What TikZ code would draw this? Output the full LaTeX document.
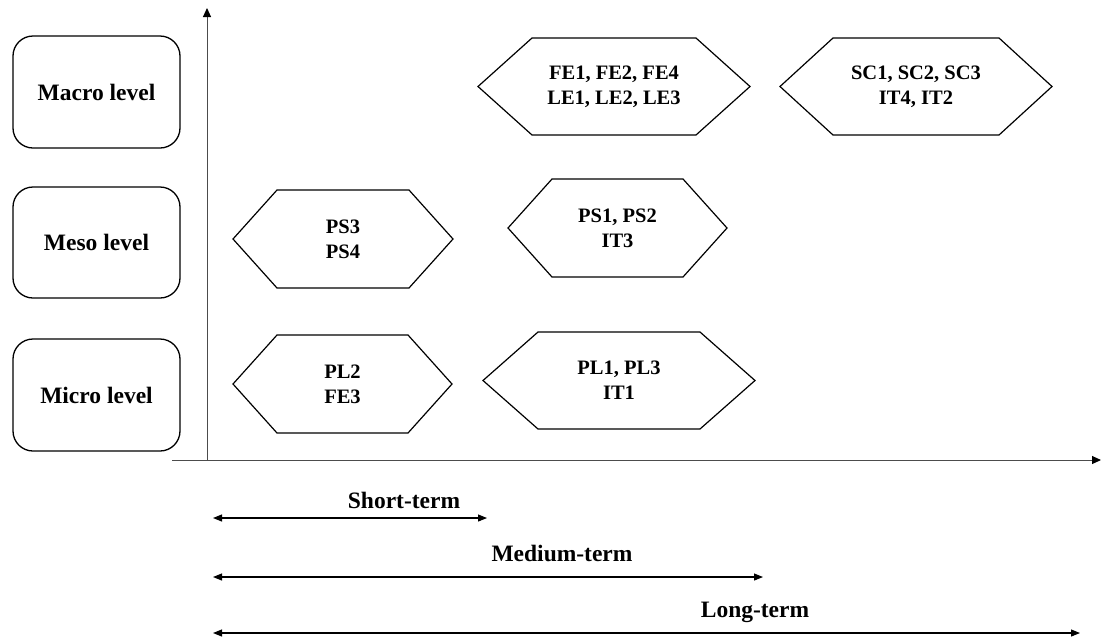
\documentclass[tikz,border=0pt]{standalone}
\usepackage{fontspec}
\setmainfont{Liberation Serif}
\usetikzlibrary{arrows.meta}
\newcommand\hexbox[7]{% name, cx, cy, half width, inset, half height, text
  \node[hextext] (#1) at (#2,#3) {#7};
  \draw[hexline] ({#2-#4},#3) -- ({#2-#4+#5},{#3-#6}) -- ({#2+#4-#5},{#3-#6})
    -- ({#2+#4},#3) -- ({#2+#4-#5},{#3+#6}) -- ({#2-#4+#5},{#3+#6}) -- cycle;
}
\begin{document}
\begin{tikzpicture}[x=1pt,y=-1pt,
  levelbox/.style={draw, line width=1.3pt, rounded corners=20pt, minimum width=167pt,
    minimum height=112pt, inner sep=0pt, font=\fontsize{23.5}{27}\selectfont\bfseries},
  hextext/.style={align=center, font=\fontsize{20.5}{25}\selectfont\bfseries, inner sep=0pt},
  hexline/.style={line width=1.2pt, line join=miter},
  axisline/.style={draw=black!70, line width=1pt},
  axisarrow/.style={axisline, -{Triangle[length=9pt,width=8pt,color=black]}},
  spanarrow/.style={line width=1.1pt, {Triangle[length=9pt,width=7pt]}-{Triangle[length=9pt,width=7pt]}},
  termlabel/.style={font=\fontsize{23.5}{27}\selectfont\bfseries, inner sep=0pt}
]
\useasboundingbox (0,0) rectangle (1102,641);

% level boxes
\node[levelbox] (macro) at (96.5,92) {Macro level};
\node[levelbox, minimum height=111pt] (meso) at (96.5,242.5) {Meso level};
\node[levelbox] (micro) at (96.5,395) {Micro level};

% axes
\coordinate (ytop) at (207,8);
\coordinate (ybot) at (207,460);
\coordinate (xleft) at (172,460);
\coordinate (xright) at (1101,460);
\draw[axisarrow] (ybot) -- (ytop);
\draw[axisarrow] (xleft) -- (xright);

% hexagons
\hexbox{fe}{614}{86.5}{136}{54}{48.5}{FE1, FE2, FE4\\LE1, LE2, LE3}
\hexbox{sc}{916}{86.5}{136}{53}{48.5}{SC1, SC2, SC3\\IT4, IT2}
\hexbox{psa}{343}{239}{110}{44}{49}{PS3\\PS4}
\hexbox{psb}{617.5}{228}{109.5}{44}{49}{PS1, PS2\\IT3}
\hexbox{pla}{342.5}{384}{109.5}{44}{49}{PL2\\FE3}
\hexbox{plb}{619}{380.5}{136}{55}{48.5}{PL1, PL3\\IT1}

% time spans
\coordinate (s0) at (213,518);
\coordinate (s1) at (487,518);
\coordinate (m0) at (213,577);
\coordinate (m1) at (763,577);
\coordinate (l0) at (213,633);
\coordinate (l1) at (1080,633);
\draw[spanarrow] (s0) -- (s1);
\draw[spanarrow] (m0) -- (m1);
\draw[spanarrow] (l0) -- (l1);
\node[termlabel] (short) at (404,500) {Short-term};
\node[termlabel] (medium) at (562,553) {Medium-term};
\node[termlabel] (long) at (755,612) {Long-term};
\end{tikzpicture}
\end{document}
